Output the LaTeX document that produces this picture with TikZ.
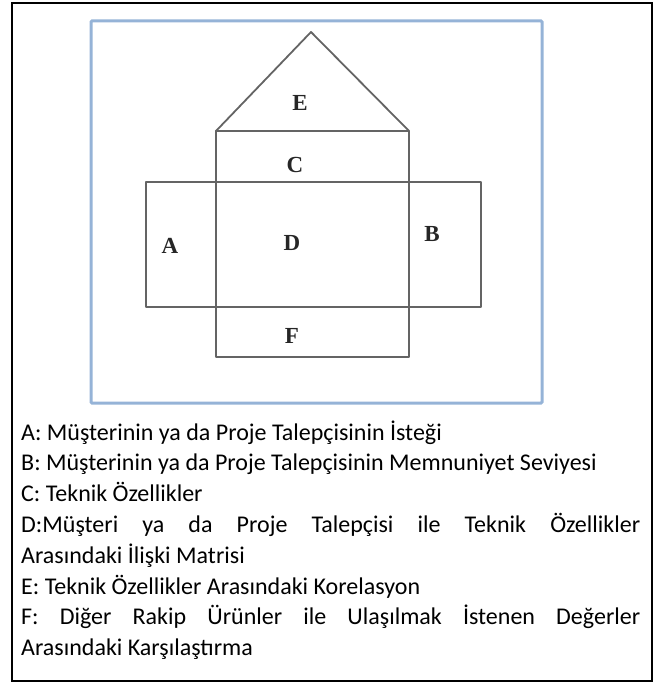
\documentclass[tikz,border=0pt]{standalone}
\usepackage{fontspec}
\setmainfont{Carlito}
\newfontfamily\diagserif{Liberation Serif}
\definecolor{boxblue}{RGB}{149,179,215}
\definecolor{shapegray}{RGB}{100,100,100}
\begin{document}
\begin{tikzpicture}[x=1pt,y=-1pt,
  frame/.style={draw=black,line width=1.5pt},
  bluebox/.style={draw=boxblue,line width=3pt,rounded corners=1pt},
  shapeline/.style={draw=shapegray,line width=1.8pt,line join=round},
  letter/.style={font=\diagserif\fontsize{23}{23}\selectfont\bfseries,text=black!85},
  legend/.style={anchor=base west,inner sep=0pt,font=\fontsize{24}{28}\selectfont}]
\useasboundingbox (0,0) rectangle (661,682);
\draw[frame] (12,3) rectangle (652,681);
\draw[bluebox] (91,21) rectangle (542,403);
% coordinates
\coordinate (apex) at (311,32);
\coordinate (ctl) at (216,131);
\coordinate (ctr) at (409,131);
\coordinate (cbl) at (216,357);
\coordinate (cbr) at (409,357);
\coordinate (htl) at (146,182);
\coordinate (hbr) at (481,307);
\draw[shapeline] (ctl) -- (apex) -- (ctr) -- cycle;
\draw[shapeline] (ctl) rectangle (cbr);
\draw[shapeline] (htl) rectangle (hbr);
\node[letter] (E) at (300,103) {E};
\node[letter] (C) at (295,165) {C};
\node[letter] (D) at (292,243) {D};
\node[letter] (A) at (170,246) {A};
\node[letter] (B) at (432,234) {B};
\node[letter] (F) at (292,336) {F};
% legend
\node[legend] (l1) at (21,440) {A: Müşterinin ya da Proje Talepçisinin İsteği};
\node[legend] (l2) at (21,470.8) {B: Müşterinin ya da Proje Talepçisinin Memnuniyet Seviyesi};
\node[legend] (l3) at (21,501.6) {C: Teknik Özellikler};
\node[legend] (l4) at (21,532.4) {\makebox[619pt][s]{D:Müşteri ya da Proje Talepçisi ile Teknik Özellikler}};
\node[legend] (l5) at (21,563.2) {Arasındaki İlişki Matrisi};
\node[legend] (l6) at (21,594) {E: Teknik Özellikler Arasındaki Korelasyon};
\node[legend] (l7) at (21,624.8) {\makebox[619pt][s]{F: Diğer Rakip Ürünler ile Ulaşılmak İstenen Değerler}};
\node[legend] (l8) at (21,655.6) {Arasındaki Karşılaştırma};
\end{tikzpicture}
\end{document}
